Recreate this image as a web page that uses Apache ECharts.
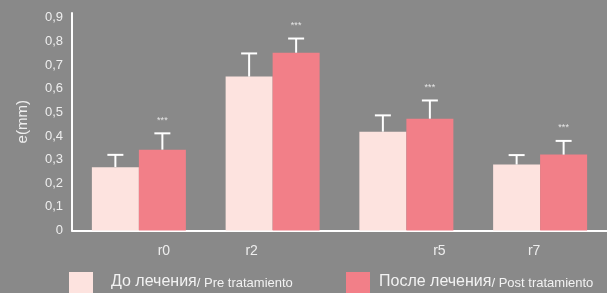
<!DOCTYPE html>
<html>
<head>
<meta charset="utf-8">
<script src="https://cdn.jsdelivr.net/npm/echarts@6/dist/echarts.min.js"></script>
<style>
html,body{margin:0;padding:0;background:#898989;}
#c{width:607px;height:293px;}
</style>
</head>
<body>
<div id="c"></div>
<script>
var categories = ['r0', 'r2', 'r5', 'r7'];
var preValues = [0.268, 0.651, 0.418, 0.279];
var preErrors = [0.052, 0.098, 0.069, 0.040];
var postValues = [0.342, 0.752, 0.473, 0.321];
var postErrors = [0.069, 0.060, 0.077, 0.058];
var postSignif = ['***', '***', '***', '***'];
var yTicks = [0, 0.1, 0.2, 0.3, 0.4, 0.5, 0.6, 0.7, 0.8, 0.9];
var preName = 'До лечения/ Pre tratamiento';
var postName = 'После лечения/ Post tratamiento';

// label offsets (visual quirk of original)
var labelPads = [[0,0,0,50],[0,42,0,0],[0,0,0,66],[0,12,0,0]];

var BAR_W = 47;
var FONT = '"Liberation Sans", Arial, sans-serif';

function errData(vals, errs) {
  return vals.map(function (v, i) { return [i, v, errs[i]]; });
}

function makeErrRender(offset, withStars) {
  return function (params, api) {
    var idx = api.value(0), v = api.value(1), e = api.value(2);
    var base = api.coord([idx, v]);
    var top = api.coord([idx, v + e]);
    var x = base[0] + offset;
    var children = [
      { type: 'line', shape: { x1: x, y1: base[1], x2: x, y2: top[1] },
        style: { stroke: '#ffffff', lineWidth: 2 } },
      { type: 'line', shape: { x1: x - 8, y1: top[1], x2: x + 8, y2: top[1] },
        style: { stroke: '#ffffff', lineWidth: 2 } }
    ];
    if (withStars) {
      children.push({ type: 'text', style: { text: postSignif[idx], x: x, y: top[1] - 13,
        align: 'center', verticalAlign: 'middle', fill: '#e6e6e6', font: '9px ' + FONT } });
    }
    return { type: 'group', children: children };
  };
}

function legendFmt(n) { var p = n.split('/'); return '{a|' + p[0] + '}{b|/' + p[1] + '}'; }
var legendRich = {
  a: { fontSize: 16, color: '#f2f2f2', fontFamily: FONT, verticalAlign: 'bottom', lineHeight: 18 },
  b: { fontSize: 13, color: '#f2f2f2', fontFamily: FONT, verticalAlign: 'bottom', lineHeight: 19 }
};

var chart = echarts.init(document.getElementById('c'));
chart.setOption({
  backgroundColor: '#898989',
  animation: false,
  textStyle: { fontFamily: FONT },
  grid: { left: 72, top: 13, width: 540, bottom: 62.5 },
  legend: [
    { left: 69, top: 272, padding: 0, itemWidth: 24, itemHeight: 24, itemGap: 10,
      icon: 'rect', data: [preName], formatter: legendFmt,
      textStyle: { padding: [0,0,8,13], rich: legendRich } },
    { left: 346, top: 272, padding: 0, itemWidth: 24, itemHeight: 24, itemGap: 10,
      icon: 'rect', data: [postName], formatter: legendFmt,
      textStyle: { padding: [0,0,8,4], rich: legendRich } }
  ],
  xAxis: {
    type: 'category',
    data: categories.map(function (c, i) { return { value: c, textStyle: { padding: labelPads[i] } }; }),
    axisLine: { lineStyle: { color: '#ffffff', width: 2 } },
    axisTick: { show: false },
    axisLabel: { color: '#eeeeee', fontSize: 14, margin: 14, fontFamily: FONT },
    splitLine: { show: false }
  },
  yAxis: {
    type: 'value', min: 0, max: 0.92, interval: 0.1,
    name: 'e(mm)', nameLocation: 'middle', nameGap: 42, nameRotate: 90,
    nameTextStyle: { color: '#eeeeee', fontSize: 15, fontFamily: FONT },
    axisLine: { show: true, lineStyle: { color: '#ffffff', width: 2 } },
    axisTick: { show: false },
    splitLine: { show: false },
    axisLabel: { color: '#eeeeee', fontSize: 13, margin: 9, fontFamily: FONT, showMaxLabel: false,
      formatter: function (v) {
        var t = yTicks.filter(function (k) { return Math.abs(k - v) < 1e-6; });
        if (!t.length) return '';
        return v === 0 ? '0' : String(Math.round(v * 10) / 10).replace('.', ',');
      } }
  },
  series: [
    { name: preName, type: 'bar', data: preValues, barWidth: BAR_W, barGap: '0%',
      itemStyle: { color: '#fde3df' }, z: 2 },
    { name: postName, type: 'bar', data: postValues, barWidth: BAR_W, barGap: '0%',
      itemStyle: { color: '#f27f88' }, z: 2 },
    { type: 'custom', data: errData(preValues, preErrors), renderItem: makeErrRender(-BAR_W / 2, false), z: 5, silent: true },
    { type: 'custom', data: errData(postValues, postErrors), renderItem: makeErrRender(BAR_W / 2, true), z: 5, silent: true }
  ]
});
</script>
</body>
</html>
